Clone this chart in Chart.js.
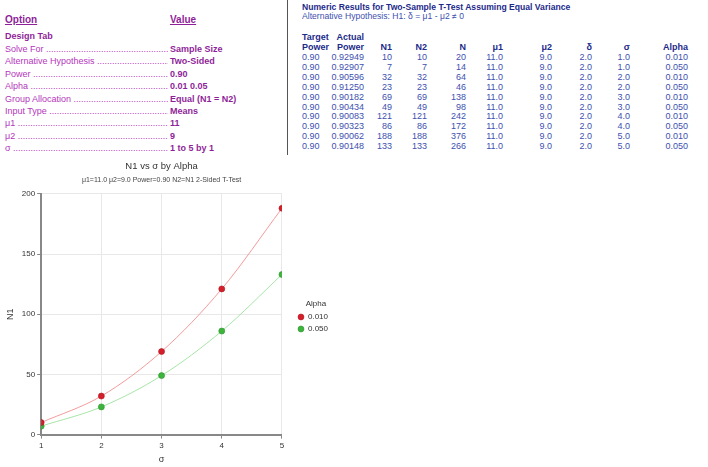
<!DOCTYPE html>
<html>
<head>
<meta charset="utf-8">
<script src="https://cdn.jsdelivr.net/npm/chart.js@4.4.1/dist/chart.umd.min.js"></script>
<style>
  body { margin: 0; width: 708px; height: 467px; background: #fff; position: relative; overflow: hidden;
         font-family: "Liberation Sans", Arial, sans-serif; }
  .opt { position: absolute; font-size: 9px; line-height: 11px; color: #b535bd; white-space: nowrap; }
  .lbl { left: 5px; width: 163px; overflow: hidden; }
  .val { left: 170px; font-weight: bold; color: #8f1f99; }
  .head { font-size: 10px; font-weight: bold; text-decoration: underline; color: #8f1f99; }
  .divider { position: absolute; left: 287px; top: 0; width: 1px; height: 155px; background: #555; }
  .res { position: absolute; font-size: 9px; line-height: 10px; color: #4050b0; white-space: nowrap; }
  .res.r { text-align: right; }
  .res.b { font-weight: bold; color: #1d2a8a; }
  .res.t { font-size: 8.6px; }
  #chartBox { position: absolute; left: 0; top: 158px; width: 338px; height: 309px; }
</style>
</head>
<body>
<div id="options"></div>
<div class="divider"></div>
<div id="results"></div>
<div id="chartBox"><canvas id="chart"></canvas></div>
<script>
// left panel
const optionLabels = ["Solve For", "Alternative Hypothesis", "Power", "Alpha", "Group Allocation", "Input Type", "μ1", "μ2", "σ"];
const optionValues = ["Sample Size", "Two-Sided", "0.90", "0.01 0.05", "Equal (N1 = N2)", "Means", "11", "9", "1 to 5 by 1"];

// numeric results table
const targetPower = ["0.90", "0.90", "0.90", "0.90", "0.90", "0.90", "0.90", "0.90", "0.90", "0.90"];
const actualPower = ["0.92949", "0.92907", "0.90596", "0.91250", "0.90182", "0.90434", "0.90083", "0.90323", "0.90062", "0.90148"];
const n1Col = [10, 7, 32, 23, 69, 49, 121, 86, 188, 133];
const n2Col = [10, 7, 32, 23, 69, 49, 121, 86, 188, 133];
const nCol = [20, 14, 64, 46, 138, 98, 242, 172, 376, 266];
const mu1Col = ["11.0", "11.0", "11.0", "11.0", "11.0", "11.0", "11.0", "11.0", "11.0", "11.0"];
const mu2Col = ["9.0", "9.0", "9.0", "9.0", "9.0", "9.0", "9.0", "9.0", "9.0", "9.0"];
const deltaCol = ["2.0", "2.0", "2.0", "2.0", "2.0", "2.0", "2.0", "2.0", "2.0", "2.0"];
const sigmaCol = ["1.0", "1.0", "2.0", "2.0", "3.0", "3.0", "4.0", "4.0", "5.0", "5.0"];
const alphaCol = ["0.010", "0.050", "0.010", "0.050", "0.010", "0.050", "0.010", "0.050", "0.010", "0.050"];

// chart
const sigmaValues = [1, 2, 3, 4, 5];
const alphaLabels = ["0.010", "0.050"];
const n1Alpha010 = [10, 32, 69, 121, 188];
const n1Alpha050 = [7, 23, 49, 86, 133];

function addDiv(parent, cls, text, style) {
    const d = document.createElement('div');
    d.className = cls;
    d.textContent = text;
    Object.assign(d.style, style);
    parent.appendChild(d);
    return d;
}

function buildOptions() {
    const box = document.getElementById('options');
    addDiv(box, 'opt head', 'Option', { left: '5px', top: '14px' });
    addDiv(box, 'opt head', 'Value', { left: '170px', top: '14px' });
    addDiv(box, 'opt val', 'Design Tab', { left: '5px', top: '31px' });
    const dots = '.'.repeat(80);
    optionLabels.forEach((label, i) => {
        const top = (44 + i * 12.4) + 'px';
        addDiv(box, 'opt lbl', label + ' ' + dots, { top: top });
        addDiv(box, 'opt val', optionValues[i], { top: top });
    });
}

function buildResults() {
    const box = document.getElementById('results');
    addDiv(box, 'res b t', 'Numeric Results for Two-Sample T-Test Assuming Equal Variance', { left: '302px', top: '2px' });
    addDiv(box, 'res t', 'Alternative Hypothesis: H1: δ = μ1 - μ2 ≠ 0', { left: '302px', top: '11px' });

    // right edges of the right-aligned columns
    const cols = [
        { right: 364, head: ['Actual', 'Power'], data: actualPower },
        { right: 392, head: ['', 'N1'], data: n1Col },
        { right: 427, head: ['', 'N2'], data: n2Col },
        { right: 466, head: ['', 'N'], data: nCol },
        { right: 503, head: ['', 'μ1'], data: mu1Col },
        { right: 552, head: ['', 'μ2'], data: mu2Col },
        { right: 592, head: ['', 'δ'], data: deltaCol },
        { right: 630, head: ['', 'σ'], data: sigmaCol },
        { right: 688, head: ['', 'Alpha'], data: alphaCol }
    ];
    addDiv(box, 'res b', 'Target', { left: '302px', top: '32px' });
    addDiv(box, 'res b', 'Power', { left: '302px', top: '42px' });
    targetPower.forEach((v, i) => addDiv(box, 'res', v, { left: '302px', top: (52 + i * 9.9) + 'px' }));

    cols.forEach(col => {
        const pos = { right: (708 - col.right) + 'px' };
        if (col.head[0]) addDiv(box, 'res r b', col.head[0], { ...pos, top: '32px' });
        addDiv(box, 'res r b', col.head[1], { ...pos, top: '42px' });
        col.data.forEach((v, i) => addDiv(box, 'res r', String(v), { ...pos, top: (52 + i * 9.9) + 'px' }));
    });
}

function createDataset(label, data, lineColor, pointColor, pointEdge) {
    return {
        label: label,
        data: sigmaValues.map((x, i) => ({ x: x, y: data[i] })),
        borderColor: lineColor,
        backgroundColor: pointColor,
        borderWidth: 1,
        cubicInterpolationMode: 'monotone',
        pointRadius: 3,
        pointBackgroundColor: pointColor,
        pointBorderColor: pointEdge,
        pointBorderWidth: 0.6,
        pointStyle: 'circle'
    };
}

function buildChart() {
    const ctx = document.getElementById('chart').getContext('2d');
    const textColor = '#333';
    const gridColor = '#e8e8e8';
    const font = (size) => ({ family: 'Liberation Sans', size: size });
    new Chart(ctx, {
        type: 'line',
        data: {
            datasets: [
                createDataset(alphaLabels[0], n1Alpha010, 'rgba(240,130,130,0.8)', '#d41f2a', '#b0161f'),
                createDataset(alphaLabels[1], n1Alpha050, 'rgba(150,225,150,0.85)', '#3db53d', '#2a902a')
            ]
        },
        options: {
            animation: false,
            responsive: true,
            maintainAspectRatio: false,
            layout: { padding: { left: 1, right: 0, top: 0, bottom: 0 } },
            plugins: {
                title: {
                    display: true, text: 'N1 vs σ by Alpha', fullSize: false, color: textColor,
                    font: { ...font(9.5), weight: 'normal' },
                    padding: { top: 3, bottom: 3 }
                },
                subtitle: {
                    display: true, text: 'μ1=11.0 μ2=9.0 Power=0.90 N2=N1 2-Sided T-Test', fullSize: false,
                    color: '#444', font: font(7),
                    padding: { bottom: 10 }
                },
                legend: {
                    position: 'right',
                    fullSize: false,
                    title: { display: true, text: 'Alpha', color: textColor, font: font(8), padding: { top: 8, bottom: 0 } },
                    labels: {
                        usePointStyle: true, boxWidth: 6, boxHeight: 4.2, padding: 4, color: textColor,
                        font: font(8)
                    }
                },
                tooltip: { enabled: false }
            },
            scales: {
                x: {
                    type: 'linear', min: 1, max: 5,
                    ticks: { stepSize: 1, color: textColor, font: font(8), padding: 2 },
                    title: { display: true, text: 'σ', color: textColor, font: font(9), padding: 2 },
                    grid: { color: gridColor, tickColor: '#888', tickLength: 4 },
                    border: { color: '#888', width: 2 },
                    // reserve room on the right for the gap + legend
                    afterFit: (scale) => { scale.paddingRight = 54; }
                },
                y: {
                    min: 0, max: 200,
                    ticks: { stepSize: 50, color: textColor, font: font(8), padding: 2 },
                    title: { display: true, text: 'N1', color: textColor, font: font(9), padding: 4 },
                    grid: { color: gridColor, tickColor: '#888', tickLength: 4 },
                    border: { color: '#888', width: 2 }
                },
                // empty axis used only as a spacer between plot and legend
                gap: {
                    type: 'linear', position: 'right', display: true,
                    grid: { display: false, drawTicks: false },
                    ticks: { display: false },
                    border: { display: false },
                    afterFit: (scale) => { scale.width = 12; }
                }
            }
        }
    });
}

buildOptions();
buildResults();
buildChart();
</script>
</body>
</html>
